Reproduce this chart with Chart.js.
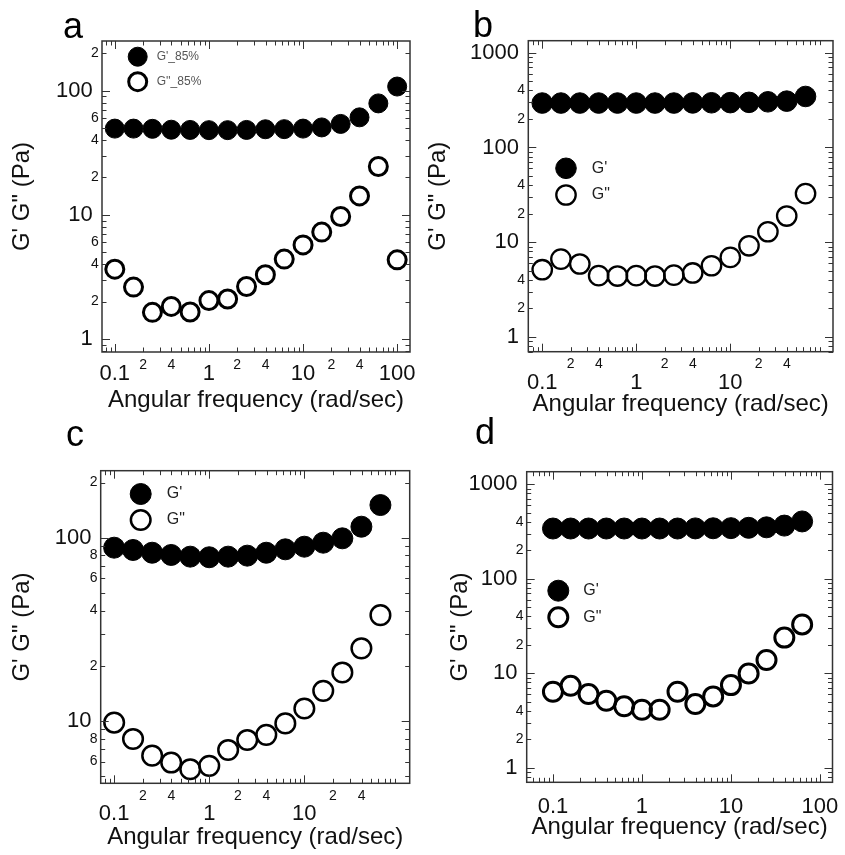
<!DOCTYPE html>
<html lang="en">
<head>
  <meta charset="UTF-8">
  <title>G' G'' vs angular frequency</title>
  <script src="https://cdn.jsdelivr.net/npm/chart.js"></script>
  <style>
    body {
      margin: 0;
      background: #FFFFFF;
    }
    #wrap {
      position: relative;
      width: 845px;
      height: 855px;
    }
    canvas {
      position: absolute;
    }
  </style>
</head>
<body>
  <div id="wrap">
    <canvas id="panelA" width="422" height="425" style="left:0;top:0"></canvas>
    <canvas id="panelB" width="423" height="425" style="left:422px;top:0"></canvas>
    <canvas id="panelC" width="422" height="455" style="left:0;top:400px"></canvas>
    <canvas id="panelD" width="423" height="455" style="left:422px;top:400px"></canvas>
  </div>

  <script>
    // frequencies (rad/sec)
    const freqA = [0.1, 0.158, 0.251, 0.398, 0.631, 1, 1.58, 2.51, 3.98, 6.31, 10, 15.8, 25.1, 39.8, 63.1, 100];
    const freqBCD = [0.1, 0.158, 0.251, 0.398, 0.631, 1, 1.58, 2.51, 3.98, 6.31, 10, 15.8, 25.1, 39.8, 63.1];

    // panel a
    const storageA = [49.5, 49.5, 49.3, 48.5, 48.3, 48.1, 48.1, 48.3, 48.9, 49, 49.5, 50.6, 54, 61, 79, 108];
    const lossA = [3.65, 2.62, 1.64, 1.83, 1.65, 2.04, 2.1, 2.65, 3.29, 4.4, 5.73, 7.26, 9.7, 14.2, 24.5, 4.34];
    // panel b
    const storageB = [294, 294, 294, 294, 294, 294, 294, 294, 295, 296, 297, 299, 303, 308, 345];
    const lossB = [5.13, 6.64, 5.89, 4.44, 4.4, 4.44, 4.4, 4.5, 4.74, 5.65, 6.92, 9.17, 12.9, 18.9, 32.6];
    // panel c
    const storageC = [88.2, 85.7, 82.8, 80.5, 78.8, 78.2, 78.8, 79.8, 82.8, 86.4, 89.3, 93.9, 99.2, 114.8, 150.7];
    const lossC = [9.8, 7.98, 6.47, 5.93, 5.45, 5.69, 6.95, 7.88, 8.4, 9.7, 11.7, 14.6, 18.4, 24.9, 37.8];
    // panel d
    const storageD = [340, 340, 340, 340, 340, 340, 340, 340, 341, 342, 343, 346, 350, 365, 404];
    const lossD = [6.36, 7.35, 6.01, 5.11, 4.46, 4.1, 4.1, 6.36, 4.71, 5.68, 7.48, 9.93, 13.8, 23.8, 32.8];

    // series names
    const namesA = ["G'_85%", "G''_85%"];
    const namesBCD = ["G'", 'G"'];

    // minor tick labels (mantissas that get a small label)
    const xMinorLabelsA = [2, 4];
    const yMinorLabelsA = [2, 4, 6];
    const xMinorLabelsB = [2, 4];
    const yMinorLabelsB = [2, 4];
    const xMinorLabelsC = [2, 4];
    const yMinorLabelsC = [2, 4, 6, 8];
    const xMinorLabelsD = [];
    const yMinorLabelsD = [2, 4];

    const xTitle = 'Angular frequency (rad/sec)';
    const yTitle = 'G\' G" (Pa)';

    const FONT = '"Liberation Sans", Arial, Helvetica, sans-serif';
    Chart.defaults.font.family = FONT;
    Chart.defaults.color = '#111';

    function mantissa(v) {
      const e = Math.floor(Math.log10(v) + 1e-9);
      return Math.round(v / Math.pow(10, e));
    }

    function decadeText(v) {
      return v < 1 ? String(Number(v.toPrecision(3))) : String(Math.round(v));
    }

    // 1..9 x 10^n ticks inside [min, max]
    function logTicks(min, max) {
      const out = [];
      for (let e = Math.floor(Math.log10(min)); e <= Math.ceil(Math.log10(max)); e++) {
        for (let m = 1; m <= 9; m++) {
          const v = Number((m * Math.pow(10, e)).toPrecision(4));
          if (v >= min && v <= max) out.push({ value: v, major: m === 1 });
        }
      }
      return out;
    }

    // frame on four sides with inward ticks
    const frameTicks = {
      id: 'frameTicks',
      afterDatasetsDraw(chart) {
        const { ctx, chartArea: { left, right, top, bottom } } = chart;
        const sx = chart.scales.x, sy = chart.scales.y;
        ctx.save();
        ctx.strokeStyle = '#333';
        ctx.lineWidth = 1;
        sx.ticks.forEach(t => {
          const p = Math.round(sx.getPixelForValue(t.value)) + 0.5;
          const len = mantissa(t.value) === 1 ? 8 : 4.5;
          ctx.beginPath();
          ctx.moveTo(p, bottom); ctx.lineTo(p, bottom - len);
          ctx.moveTo(p, top); ctx.lineTo(p, top + len);
          ctx.stroke();
        });
        sy.ticks.forEach(t => {
          const p = Math.round(sy.getPixelForValue(t.value)) + 0.5;
          const len = mantissa(t.value) === 1 ? 8 : 4.5;
          ctx.beginPath();
          ctx.moveTo(left, p); ctx.lineTo(left + len, p);
          ctx.moveTo(right, p); ctx.lineTo(right - len, p);
          ctx.stroke();
        });
        ctx.lineWidth = 1.5;
        ctx.strokeRect(left, top, right - left, bottom - top);
        ctx.restore();
      }
    };

    // panel letter and inset legend
    const decor = {
      id: 'decor',
      afterDraw(chart, args, o) {
        const ctx = chart.ctx;
        ctx.save();
        ctx.fillStyle = '#000';
        ctx.textBaseline = 'alphabetic';
        ctx.font = '36px ' + FONT;
        ctx.fillText(o.letter, o.letterX, o.letterY);

        ctx.textBaseline = 'middle';
        ctx.font = o.legendSize + 'px ' + FONT;
        chart.data.datasets.forEach((ds, i) => {
          const cy = o.legendY + i * o.legendGap;
          ctx.beginPath();
          ctx.arc(o.legendX, cy, ds.pointRadius, 0, Math.PI * 2);
          ctx.fillStyle = ds.backgroundColor;
          ctx.fill();
          ctx.lineWidth = ds.borderWidth;
          ctx.strokeStyle = ds.borderColor;
          ctx.stroke();
          ctx.fillStyle = o.legendColor;
          ctx.fillText(ds.label, o.legendTextX, cy);
        });
        ctx.restore();
      }
    };

    function makePanel(id, p) {
      const canvas = document.getElementById(id);
      const W = canvas.width, H = canvas.height;
      const titleSize = 24, titleLh = titleSize * 1.2;

      new Chart(canvas, {
        type: 'scatter',
        data: {
          datasets: [
            {
              label: p.names[0],
              data: p.freq.map((f, i) => ({ x: f, y: p.storage[i] })),
              pointRadius: p.fillR,
              pointHoverRadius: p.fillR,
              backgroundColor: '#000',
              borderColor: '#000',
              borderWidth: 1,
              clip: false
            },
            {
              label: p.names[1],
              data: p.freq.map((f, i) => ({ x: f, y: p.loss[i] })),
              pointRadius: p.ringR,
              pointHoverRadius: p.ringR,
              backgroundColor: 'rgba(0,0,0,0)',
              borderColor: '#000',
              borderWidth: p.ringW,
              clip: false
            }
          ]
        },
        options: {
          responsive: false,
          animation: false,
          events: [],
          layout: { padding: { left: 0, top: p.box.top, right: W - p.box.right, bottom: 0 } },
          plugins: {
            legend: { display: false },
            tooltip: { enabled: false },
            decor: p.decor
          },
          scales: {
            x: {
              type: 'logarithmic',
              position: 'bottom',
              min: p.xRange[0],
              max: p.xRange[1],
              grid: { display: false, drawTicks: false },
              border: { display: false },
              afterBuildTicks: s => { s.ticks = logTicks(s.min, Math.min(s.max, p.xTickMax)); },
              afterFit: s => {
                s.height = H - p.box.bottom;
                s.paddingLeft = 0; s.paddingRight = 0; s.paddingTop = 0; s.paddingBottom = 0;
              },
              ticks: {
                autoSkip: false,
                maxRotation: 0,
                minRotation: 0,
                padding: 4.3,
                color: '#111',
                callback: v => {
                  const m = mantissa(v);
                  if (m === 1) return ['', decadeText(v)];
                  return p.xMinor.includes(m) ? [String(m)] : '';
                },
                font: c => (c.tick && mantissa(c.tick.value) === 1)
                  ? { size: 22, lineHeight: p.xMajorLh }
                  : { size: 14, lineHeight: 1.2 }
              },
              title: {
                display: true,
                text: xTitle,
                color: '#111',
                font: { size: titleSize },
                padding: { top: 0, bottom: H - p.xTitleMid - titleLh / 2 }
              }
            },
            y: {
              type: 'logarithmic',
              position: 'left',
              min: p.yRange[0],
              max: p.yRange[1],
              grid: { display: false, drawTicks: false },
              border: { display: false },
              afterBuildTicks: s => { s.ticks = logTicks(s.min, s.max); },
              afterFit: s => {
                s.width = p.box.left;
                s.paddingLeft = 0; s.paddingRight = 0; s.paddingTop = 0; s.paddingBottom = 0;
              },
              ticks: {
                autoSkip: false,
                padding: 3.2,
                color: '#111',
                callback: v => {
                  const m = mantissa(v);
                  if (m === 1) return decadeText(v) + ' ';
                  return p.yMinor.includes(m) ? String(m) : '';
                },
                font: c => (c.tick && mantissa(c.tick.value) === 1) ? { size: 22 } : { size: 14 }
              },
              title: {
                display: true,
                text: yTitle,
                color: '#111',
                font: { size: titleSize },
                padding: { top: p.yTitleX - titleLh / 2, bottom: 0 }
              }
            }
          }
        },
        plugins: [frameTicks, decor]
      });
    }

    makePanel('panelA', {
      freq: freqA, storage: storageA, loss: lossA, names: namesA,
      xMinor: xMinorLabelsA, yMinor: yMinorLabelsA,
      box: { left: 102, top: 41, right: 414, bottom: 352 },
      xRange: [0.0731, 136.9], yRange: [0.786, 251.3], xTickMax: 1000,
      xMajorLh: 0.542, xTitleMid: 400.6, yTitleX: 22.5,
      fillR: 9.5, ringR: 9, ringW: 3,
      decor: { letter: 'a', letterX: 63, letterY: 38, legendX: 137.7, legendY: 56.7, legendGap: 25,
               legendTextX: 156.7, legendSize: 12, legendColor: '#555' }
    });

    makePanel('panelB', {
      freq: freqBCD, storage: storageB, loss: lossB, names: namesBCD,
      xMinor: xMinorLabelsB, yMinor: yMinorLabelsB,
      box: { left: 106.3, top: 40.7, right: 417.3, bottom: 351.7 },
      xRange: [0.0711, 123.6], yRange: [0.723, 1337], xTickMax: 90,
      xMajorLh: 0.827, xTitleMid: 403.9, yTitleX: 16.7,
      fillR: 10.3, ringR: 9.7, ringW: 2.3,
      decor: { letter: 'b', letterX: 51, letterY: 37.3, legendX: 144, legendY: 168.3, legendGap: 26.7,
               legendTextX: 169.7, legendSize: 16, legendColor: '#222' }
    });

    makePanel('panelC', {
      freq: freqBCD, storage: storageC, loss: lossC, names: namesBCD,
      xMinor: xMinorLabelsC, yMinor: yMinorLabelsC,
      box: { left: 100.7, top: 70.7, right: 413.3, bottom: 383.3 },
      xRange: [0.0722, 128.2], yRange: [4.57, 232], xTickMax: 90,
      xMajorLh: 0.809, xTitleMid: 436.9, yTitleX: 22,
      fillR: 10.5, ringR: 9.8, ringW: 2.5,
      decor: { letter: 'c', letterX: 66, letterY: 46, legendX: 140.7, legendY: 94, legendGap: 26,
               legendTextX: 166.7, legendSize: 16, legendColor: '#222' }
    });

    makePanel('panelD', {
      freq: freqBCD, storage: storageD, loss: lossD, names: namesBCD,
      xMinor: xMinorLabelsD, yMinor: yMinorLabelsD,
      box: { left: 104.7, top: 71.7, right: 414.7, bottom: 382.3 },
      xRange: [0.0507, 138.4], yRange: [0.724, 1358], xTickMax: 1000,
      xMajorLh: 0.627, xTitleMid: 426.9, yTitleX: 38.3,
      fillR: 10.5, ringR: 9.5, ringW: 3,
      decor: { letter: 'd', letterX: 53, letterY: 44, legendX: 136.3, legendY: 190.7, legendGap: 26.6,
               legendTextX: 161.3, legendSize: 16, legendColor: '#222' }
    });
  </script>
</body>
</html>
